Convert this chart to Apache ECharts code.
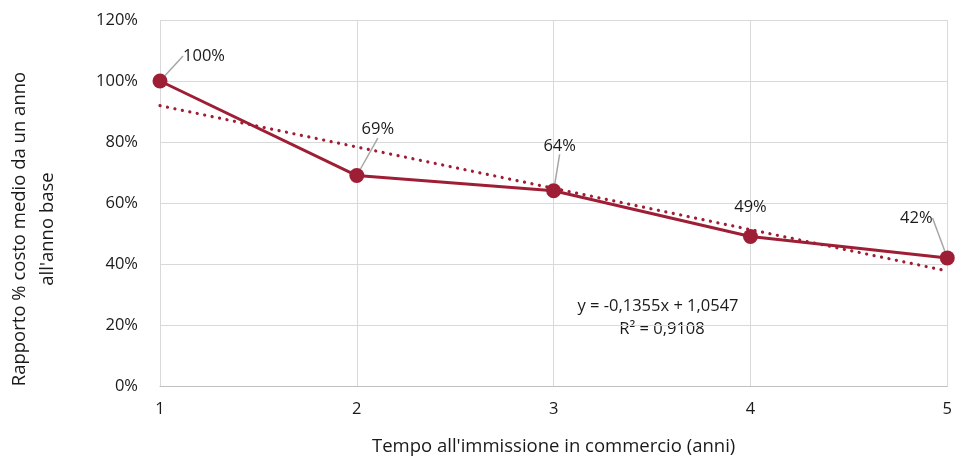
<!DOCTYPE html>
<html>
<head>
<meta charset="utf-8">
<script src="https://cdn.jsdelivr.net/npm/echarts@6/dist/echarts.min.js"></script>
<style>html,body{margin:0;padding:0;background:#fff}#c{width:955px;height:461px}</style>
</head>
<body>
<div id="c"></div>
<script>
var years = [1, 2, 3, 4, 5];
var ratio = [1.00, 0.69, 0.64, 0.49, 0.42];
var yTicks = ['0%', '20%', '40%', '60%', '80%', '100%', '120%'];
var trendSlope = -0.1355;
var trendIntercept = 1.0547;
var trendText = ['y = -0,1355x + 1,0547', 'R² = 0,9108'];
var xTitle = "Tempo all'immissione in commercio (anni)";
var yTitle = "Rapporto % costo medio da un anno\nall'anno base";

var red = '#9E1F35';
var font = '"Open Sans", sans-serif';
var fs = 16.5;
var tfs = 18.5;
var labelOffsets = [[44, -25], [21, -46], [6, -45], [0, -29], [-31, -40]];
var noLeader = [false, false, false, true, false];

var mainData = years.map(function (x, i) {
  var d = { value: [x, ratio[i]] };
  if (noLeader[i]) d.labelLine = { show: false };
  return d;
});
var trendData = [years[0], years[years.length - 1]].map(function (x) { return [x, trendSlope * x + trendIntercept]; });

var chart = echarts.init(document.getElementById('c'));
chart.setOption({
  animation: false,
  grid: { left: 160, right: 6, top: 20, bottom: 71, containLabel: false },
  xAxis: {
    type: 'value', min: 1, max: 5, interval: 1,
    name: xTitle, nameLocation: 'middle', nameGap: 51,
    nameTextStyle: { fontFamily: font, fontSize: tfs, color: '#1a1a1a' },
    axisLine: { show: true, lineStyle: { color: '#bfbfbf', width: 1 } },
    axisTick: { show: false },
    axisLabel: { fontFamily: font, fontSize: fs, color: '#1a1a1a', margin: 15 },
    splitLine: { show: true, lineStyle: { color: '#d9d9d9', width: 1 } }
  },
  yAxis: {
    type: 'value', min: 0, max: 1.2, interval: 0.2,
    axisLine: { show: false }, axisTick: { show: false },
    axisLabel: { fontFamily: font, fontSize: fs, color: '#1a1a1a', margin: 22,
      formatter: function (v) { return yTicks[Math.round(v / 0.2)]; } },
    splitLine: { show: true, lineStyle: { color: '#d9d9d9', width: 1 } }
  },
  series: [
    {
      type: 'line', data: trendData, symbol: 'none', z: 2,
      lineStyle: { color: red, width: 3.2, type: [0.1, 7.5], cap: 'round' }
    },
    {
      type: 'line', data: mainData, symbol: 'circle', symbolSize: 15, z: 3,
      itemStyle: { color: red },
      lineStyle: { color: red, width: 3 },
      label: {
        show: true, position: 'inside', fontFamily: font, fontSize: fs, color: '#1a1a1a',
        formatter: function (p) { return Math.round(p.value[1] * 100) + '%'; }
      },
      labelLine: { show: true, lineStyle: { color: '#a6a6a6', width: 1.5 } },
      labelLayout: function (p) {
        var o = labelOffsets[p.dataIndex];
        return { dx: o[0], dy: o[1] };
      }
    }
  ],
  graphic: [
    { type: 'text', x: 34, y: 229, rotation: Math.PI / 2,
      style: { text: yTitle, textAlign: 'center', textVerticalAlign: 'middle', lineHeight: 28,
        fontFamily: font, fontSize: tfs, fill: '#1a1a1a' } },
    { type: 'text', x: 658, y: 298, style: { text: trendText[0], textAlign: 'center', fontFamily: font, fontSize: fs, fill: '#1a1a1a' } },
    { type: 'text', x: 662, y: 321, style: { text: trendText[1], textAlign: 'center', fontFamily: font, fontSize: fs, fill: '#1a1a1a' } }
  ]
});
</script>
</body>
</html>
